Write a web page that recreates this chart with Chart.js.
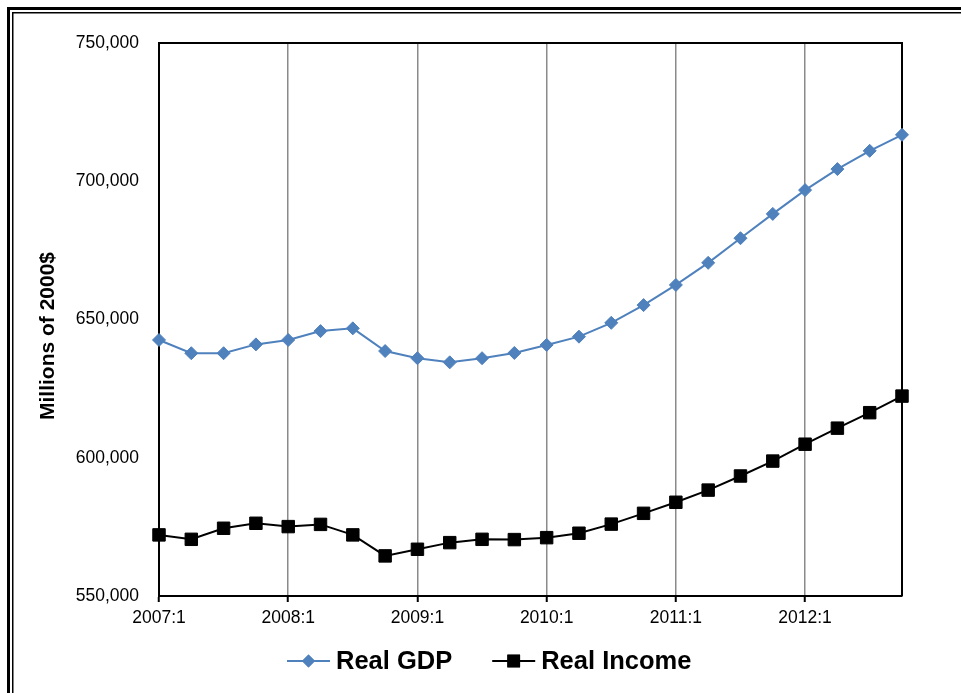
<!DOCTYPE html>
<html>
<head>
<meta charset="utf-8">
<title>Real GDP vs Real Income</title>
<script src="https://cdn.jsdelivr.net/npm/chart.js@4.4.1/dist/chart.umd.min.js"></script>
<style>
    html, body { margin: 0; padding: 0; background: #fff; }
    #chart { display: block; }
</style>
</head>
<body>
<canvas id="chart" width="961" height="693"></canvas>
<script>
// ──────────────────────────────────────────────
// Данные (квартальные, млн долларов 2000 г.)
// ──────────────────────────────────────────────
const quarters = [
    '2007:1','2007:2','2007:3','2007:4',
    '2008:1','2008:2','2008:3','2008:4',
    '2009:1','2009:2','2009:3','2009:4',
    '2010:1','2010:2','2010:3','2010:4',
    '2011:1','2011:2','2011:3','2011:4',
    '2012:1','2012:2','2012:3','2012:4'
];

const realGDP = [
    642600, 637800, 637800, 641000,
    642600, 645800, 646800, 638600,
    636000, 634500, 636000, 637900,
    640800, 643800, 648800, 655200,
    662500, 670500, 679400, 688200,
    696800, 704400, 711000, 716800
];

const realIncome = [
    572100, 570500, 574500, 576300,
    575100, 575900, 572100, 564500,
    566900, 569300, 570500, 570400,
    571100, 572700, 576000, 579900,
    583900, 588300, 593400, 598800,
    604900, 610700, 616300, 622300
];

const yTicks = [550000, 600000, 650000, 700000, 750000];

const GDP_COLOR    = '#4f81bd';
const INCOME_COLOR = '#000000';
const FONT = '"Liberation Sans", Arial, Helvetica, sans-serif';

Chart.defaults.font.family = FONT;
Chart.defaults.color = '#000';

// ──────────────────────────────────────────────
// Рамка, заголовок оси и легенда
// ──────────────────────────────────────────────
const decorPlugin = {
    id: 'decor',
    beforeDraw(chart) {
        const { ctx, width, height } = chart;
        ctx.save();
        ctx.fillStyle = '#fff';
        ctx.fillRect(0, 0, width, height);
        // двойная рамка (обрезана справа и снизу)
        ctx.fillStyle = '#000';
        ctx.fillRect(7, 7, width, 3);
        ctx.fillRect(7, 7, 3, height);
        ctx.fillRect(12, 12, width, 1.5);
        ctx.fillRect(12, 12, 1.5, height);
        ctx.restore();
    },
    beforeDatasetsDraw(chart) {
        const { ctx, chartArea: a } = chart;
        ctx.save();
        ctx.strokeStyle = '#000';
        ctx.lineWidth = 2;
        ctx.beginPath();
        ctx.moveTo(a.left, a.top);
        ctx.lineTo(a.right, a.top);
        ctx.lineTo(a.right, a.bottom);
        ctx.stroke();
        ctx.restore();
    },
    afterDraw(chart) {
        const { ctx, chartArea: a } = chart;
        ctx.save();

        // заголовок оси Y
        ctx.translate(48, 336);
        ctx.rotate(-Math.PI / 2);
        ctx.font = `bold 21px ${FONT}`;
        ctx.textAlign = 'center';
        ctx.textBaseline = 'middle';
        ctx.fillStyle = '#000';
        ctx.fillText('Millions of 2000$', 0, 0);
        ctx.setTransform(1, 0, 0, 1, 0, 0);

        // легенда
        const items = [
            { label: 'Real GDP',    color: GDP_COLOR,    style: 'rectRot', r: 6.5 },
            { label: 'Real Income', color: INCOME_COLOR, style: 'rect',    r: 9 }
        ];
        const ly = 661;
        let x = a.left + 128;
        ctx.font = `bold 25.5px ${FONT}`;
        ctx.textBaseline = 'middle';
        ctx.textAlign = 'left';
        items.forEach(it => {
            ctx.strokeStyle = it.color;
            ctx.lineWidth = 2;
            ctx.beginPath();
            ctx.moveTo(x, ly);
            ctx.lineTo(x + 43, ly);
            ctx.stroke();
            ctx.fillStyle = it.color;
            Chart.helpers.drawPoint(ctx, { pointStyle: it.style, radius: it.r, borderWidth: 0 }, x + 21.5, ly);
            ctx.fill();
            ctx.fillStyle = '#000';
            ctx.fillText(it.label, x + 49, ly + 1);
            x += 49 + ctx.measureText(it.label).width + 40;
        });
        ctx.restore();
    }
};

// ──────────────────────────────────────────────
// График
// ──────────────────────────────────────────────
new Chart(document.getElementById('chart'), {
    type: 'line',
    data: {
        labels: quarters,
        datasets: [
            {
                label: 'Real GDP',
                data: realGDP,
                borderColor: GDP_COLOR, backgroundColor: GDP_COLOR,
                borderWidth: 2, tension: 0, fill: false, clip: false,
                pointStyle: 'rectRot', pointRadius: 6.5,
                pointBackgroundColor: GDP_COLOR, pointBorderColor: GDP_COLOR, pointBorderWidth: 1
            },
            {
                label: 'Real Income',
                data: realIncome,
                borderColor: INCOME_COLOR, backgroundColor: INCOME_COLOR,
                borderWidth: 2, tension: 0, fill: false, clip: false,
                pointStyle: 'rect', pointRadius: 8.8,
                pointBackgroundColor: INCOME_COLOR, pointBorderColor: INCOME_COLOR, pointBorderWidth: 1
            }
        ]
    },
    options: {
        responsive: false,
        animation: false,
        devicePixelRatio: 1,
        layout: { padding: { left: 20, top: 43, right: 59, bottom: 57 } },
        plugins: {
            legend: { display: false },
            tooltip: { enabled: false }
        },
        scales: {
            x: {
                type: 'category',
                offset: false,
                grid: {
                    color: c => (c.index % 4 === 0 && c.index > 0) ? '#8a8a8a' : 'rgba(0,0,0,0)',
                    tickColor: c => c.index % 4 === 0 ? '#000' : 'rgba(0,0,0,0)',
                    lineWidth: 1.5,
                    tickWidth: 2,
                    tickLength: 6
                },
                border: { display: true, color: '#000', width: 2 },
                ticks: {
                    autoSkip: false, maxRotation: 0, padding: 6,
                    font: { size: 17.5 }, color: '#000',
                    callback: (v, i) => i % 4 === 0 ? quarters[i] : ''
                },
                afterFit: s => { s.height = 40; }
            },
            y: {
                min: yTicks[0],
                max: yTicks[yTicks.length - 1],
                afterBuildTicks: s => { s.ticks = yTicks.map(v => ({ value: v })); },
                grid: { display: false, drawTicks: false },
                border: { display: true, color: '#000', width: 2 },
                ticks: {
                    padding: 20, font: { size: 17.5 }, color: '#000',
                    callback: v => v.toLocaleString('en-US')
                },
                afterFit: s => { s.width = 139; }
            }
        }
    },
    plugins: [decorPlugin]
});
</script>
</body>
</html>
